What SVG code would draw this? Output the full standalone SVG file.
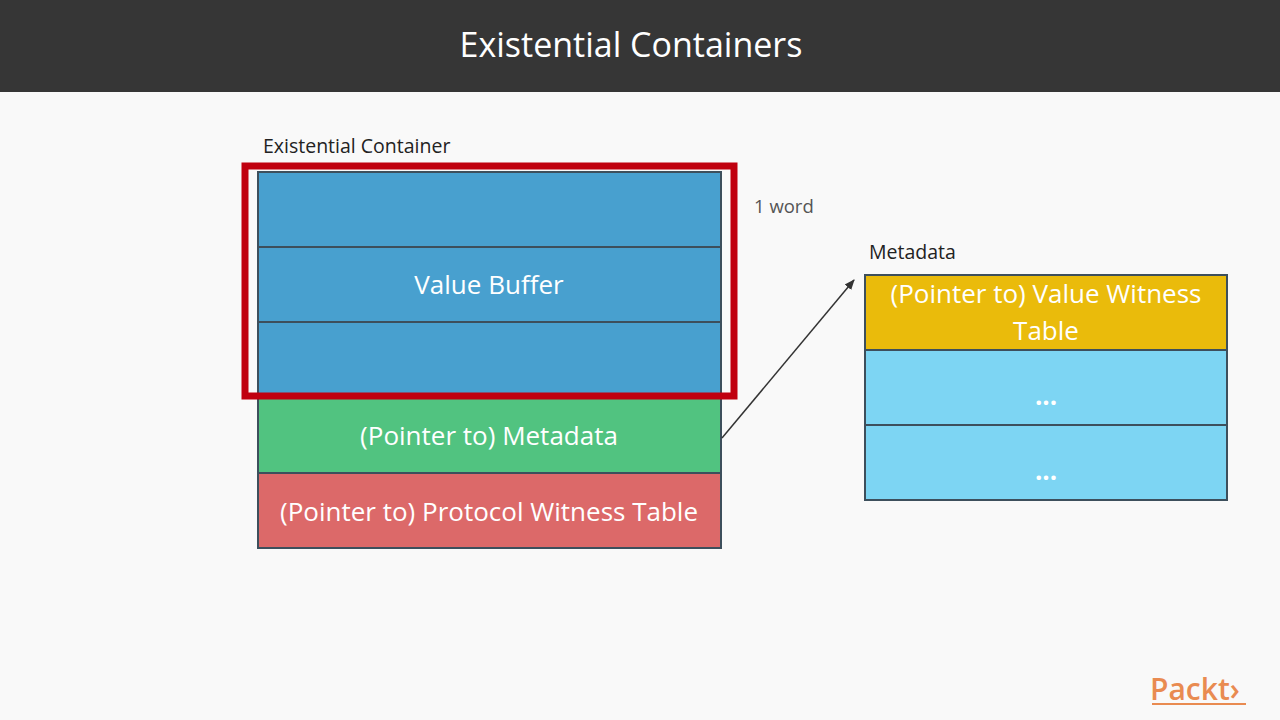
<svg xmlns="http://www.w3.org/2000/svg" width="1280" height="720" viewBox="0 0 1280 720">
<defs>
<style>
.t{font-family:"Open Sans","Liberation Sans",sans-serif;}
.cell{stroke:#3d4f5c;stroke-width:2;}
.w{fill:#fff;font-size:26px;text-anchor:middle;}
</style>
<marker id="ah" viewBox="0 0 10 10" refX="9" refY="5" markerWidth="7" markerHeight="7" orient="auto"><path d="M0,1 L10,5 L0,9 z" fill="#333"/></marker>
</defs>
<rect width="1280" height="720" fill="#f9f9f9"/>
<rect width="1280" height="92" fill="#363636"/>
<text class="t" x="631" y="57" font-size="34" fill="#fff" text-anchor="middle">Existential Containers</text>
<text class="t" x="263" y="153" font-size="19.5" fill="#222">Existential Container</text>
<text class="t" x="754" y="213" font-size="18.5" fill="#555">1 word</text>
<text class="t" x="869" y="259" font-size="19.5" fill="#222">Metadata</text>
<g id="container">
<rect class="cell" x="258" y="172" width="463" height="75" fill="#48a0cf"/>
<rect class="cell" x="258" y="247" width="463" height="75" fill="#48a0cf"/>
<rect class="cell" x="258" y="322" width="463" height="75" fill="#48a0cf"/>
<text class="t w" x="489" y="294">Value Buffer</text>
</g>
<g id="metaptr">
<rect class="cell" x="258" y="397" width="463" height="76" fill="#51c380"/>
<text class="t w" x="489" y="445">(Pointer to) Metadata</text>
</g>
<g id="pwt">
<rect class="cell" x="258" y="473" width="463" height="75" fill="#dc6969"/>
<text class="t w" x="489" y="521">(Pointer to) Protocol Witness Table</text>
</g>
<g id="highlight"><rect x="245" y="166" width="489" height="230" fill="none" stroke="#c0000f" stroke-width="7"/></g>
<g id="metadata">
<rect class="cell" x="865" y="275" width="362" height="75" fill="#eabb0b"/>
<rect class="cell" x="865" y="350" width="362" height="75" fill="#7dd5f3"/>
<rect class="cell" x="865" y="425" width="362" height="75" fill="#7dd5f3"/>
<text class="t w" x="1046" y="303">(Pointer to) Value Witness</text>
<text class="t w" x="1046" y="340">Table</text>
<text class="t w" x="1046" y="405" font-weight="bold">...</text>
<text class="t w" x="1046" y="480" font-weight="bold">...</text>
</g>
<g id="connectors"><line x1="722" y1="438" x2="854" y2="280" stroke="#333" stroke-width="1.5" marker-end="url(#ah)"/></g>
<g id="logo">
<text class="t" x="1150" y="700" font-size="30" fill="#e98b51" font-weight="600">Packt›</text>
<line x1="1152" y1="704" x2="1246" y2="704" stroke="#e98b51" stroke-width="2"/>
</g>
</svg>
